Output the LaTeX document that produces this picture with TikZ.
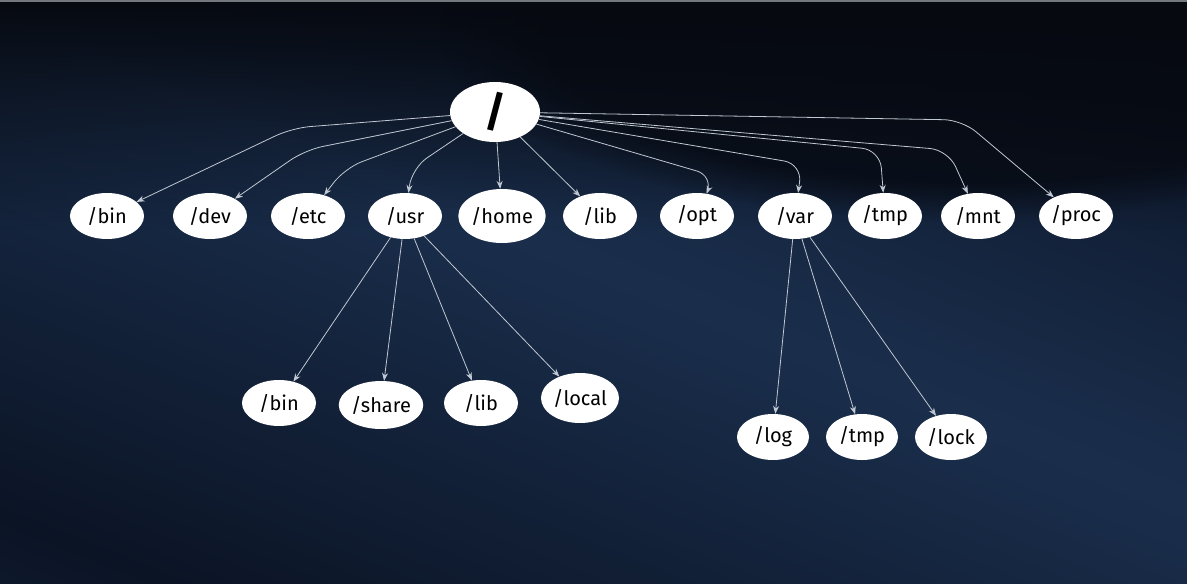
\documentclass[tikz,border=0pt]{standalone}
\usepackage{fontspec}
\setmainfont{Fira Sans}
\usetikzlibrary{shapes.geometric,arrows.meta,fadings}
\definecolor{nightsky}{RGB}{6,9,16}
\definecolor{banddark}{RGB}{11,20,37}
\definecolor{bandlight}{RGB}{26,46,76}
\definecolor{linkgray}{RGB}{192,200,210}
\pgfdeclareverticalshading{navywaves}{100bp}{color(0bp)=(banddark); color(12bp)=(bandlight);
  color(22bp)=(banddark); color(34bp)=(bandlight); color(44bp)=(banddark); color(56bp)=(bandlight);
  color(68bp)=(banddark); color(80bp)=(bandlight); color(90bp)=(banddark); color(100bp)=(bandlight)}
\tikzfading[name=topdark,top color=transparent!0,bottom color=transparent!100]
\begin{document}
\begin{tikzpicture}[x=1pt,y=-1pt,
    dir/.style={ellipse,fill=white,draw=none,minimum width=74pt,minimum height=46pt,
      inner sep=0pt,font=\fontsize{20}{22}\selectfont},
    link/.style={draw=linkgray,line width=0.8pt,-{Stealth[length=8pt,width=6pt]},
      rounded corners=18pt}]
    % backdrop
    \useasboundingbox (0,0) rectangle (1187,584);
    \begin{scope}[transform canvas={rotate=-22}]
      \shade [shading=navywaves] (-500,-700) rectangle (1700,1200);
    \end{scope}
    \fill [nightsky,path fading=topdark] (0,0) rectangle (1187,230);
    \fill [nightsky,opacity=0.7,path fading=circle with fuzzy edge 20 percent] (960,30) ellipse (520 and 190);
    \fill [linkgray!60!black] (0,0) rectangle (1187,2);

    % root and first level
    \node [dir,minimum width=90pt,minimum height=60pt,font=\fontsize{42}{42}\selectfont\bfseries] (root) at (495,112) {/};
    \node [dir] (bin) at (107,216) {/bin};
    \node [dir] (dev) at (210,216) {/dev};
    \node [dir] (etc) at (308,216) {/etc};
    \node [dir] (usr) at (405,216) {/usr};
    \node [dir,minimum width=86pt,minimum height=54pt] (home) at (502,216) {/home};
    \node [dir] (lib) at (600,216) {/lib};
    \node [dir] (opt) at (697,216) {/opt};
    \node [dir] (var) at (795,216) {/var};
    \node [dir] (tmp) at (885,216) {/tmp};
    \node [dir] (mnt) at (978,216) {/mnt};
    \node [dir] (proc) at (1076,216) {/proc};

    % under /usr
    \node [dir] (usrbin) at (279,403) {/bin};
    \node [dir,minimum width=78pt,minimum height=48pt] (usrshare) at (381,405) {/share};
    \node [dir] (usrlib) at (481,403) {/lib};
    \node [dir,minimum width=78pt,minimum height=50pt] (usrlocal) at (580,398) {/local};

    % under /var
    \node [dir,minimum width=72pt] (varlog) at (773,437) {/log};
    \node [dir,minimum width=72pt] (vartmp) at (862,437) {/tmp};
    \node [dir,minimum width=72pt] (varlock) at (951,437) {/lock};

    % links from root
    \draw [link] (root) -- (292,128) -- (bin);
    \draw [link] (root) -- (305,150) -- (dev);
    \draw [link] (root) -- (345,168) -- (etc);
    \draw [link] (root) -- (412,168) -- (usr);
    \draw [link] (root) -- (home);
    \draw [link] (root) -- (lib);
    \draw [link] (root) -- (714,176) -- (opt);
    \draw [link] (root) -- (802,164) -- (var);
    \draw [link] (root) -- (880,150) -- (tmp);
    \draw [link] (root) -- (948,150) -- (mnt);
    \draw [link] (root) -- (962,120) -- (proc);

    % links below
    \draw [link] (usr) -- (usrbin);
    \draw [link] (usr) -- (usrshare);
    \draw [link] (usr) -- (usrlib);
    \draw [link] (usr) -- (usrlocal);
    \draw [link] (var) -- (varlog);
    \draw [link] (var) -- (vartmp);
    \draw [link] (var) -- (varlock);
\end{tikzpicture}
\end{document}
